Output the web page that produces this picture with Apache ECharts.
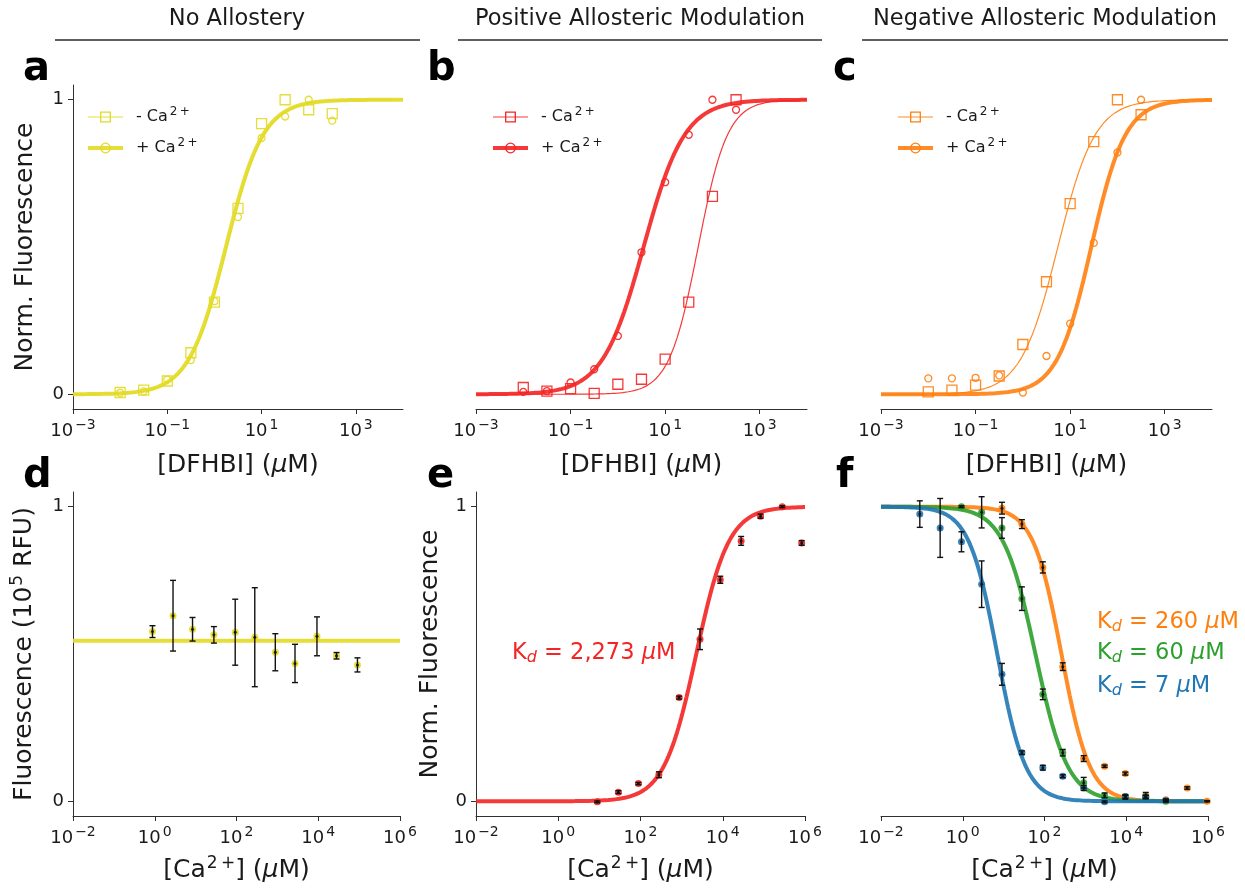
<!DOCTYPE html>
<html>
<head>
<meta charset="utf-8">
<script src="https://cdn.jsdelivr.net/npm/echarts@6/dist/echarts.min.js"></script>
<style>
  html, body { margin: 0; padding: 0; background: #ffffff; }
  #chart { width: 1245px; height: 890px; }
</style>
</head>
<body>
<div id="chart"></div>
<script>
// ---------- DFHBI titrations (panels a-c) ----------
const dfhbiConc = [0.01, 0.0316, 0.1, 0.316, 1, 3.16, 10, 31.6, 100, 316];   // µM

const aMinusCa = [0.006, 0.014, 0.045, 0.141, 0.313, 0.631, 0.919, 1.000, 0.966, 0.953];
const aPlusCa  = [0.005, 0.010, 0.050, 0.116, 0.316, 0.602, 0.870, 0.943, 1.000, 0.929];

const bMinusCa = [0.023, 0.011, 0.019, 0.003, 0.034, 0.051, 0.119, 0.313, 0.672, 1.000];
const bPlusCa  = [0.008, 0.011, 0.040, 0.085, 0.198, 0.482, 0.720, 0.881, 1.000, 0.966];

const cMinusCa = [0.008, 0.014, 0.031, 0.062, 0.169, 0.382, 0.647, 0.858, 1.000, 0.949];
const cPlusCa  = [0.054, 0.054, 0.056, 0.064, 0.006, 0.130, 0.240, 0.514, 0.821, 1.000];

// Hill fits (K in µM, n = Hill coefficient)
const fitAMinus = { K: 1.85, n: 1.1 };
const fitAPlus  = { K: 1.75, n: 1.1 };
const fitBMinus = { K: 50,   n: 1.4 };
const fitBPlus  = { K: 3.5,  n: 1.0 };
const fitCMinus = { K: 5.5,  n: 1.1 };
const fitCPlus  = { K: 28,   n: 1.2 };

// ---------- Ca2+ titrations (panels d-f) ----------
const caConcD = [0.88, 2.8, 8.4, 28, 93, 280, 890, 2700, 9300, 28000, 91000];
const dFluor  = [0.576, 0.630, 0.584, 0.565, 0.574, 0.557, 0.506, 0.468, 0.560, 0.494, 0.463];
const dErr    = [0.020, 0.120, 0.040, 0.028, 0.112, 0.168, 0.063, 0.065, 0.066, 0.011, 0.024];
const dFlatFit = 0.545;

const caConcE = [8.9, 29, 89, 280, 870, 2800, 8700, 28000, 83000, 280000, 830000];
const eNorm   = [-0.002, 0.031, 0.060, 0.090, 0.352, 0.550, 0.752, 0.884, 0.968, 1.000, 0.877];
const eErr    = [0.003, 0.005, 0.004, 0.010, 0.005, 0.035, 0.012, 0.015, 0.007, 0.003, 0.008];
const kdE = 2273, hillE = 1.1;

const caConcF    = [0.089, 0.28, 0.93, 2.9, 9.1, 28, 91, 280, 910, 2950, 9500, 30000, 93000, 310000, 950000];
const fBlue      = [0.975, 0.928, 0.881, 0.737, 0.431, 0.165, 0.114, 0.085, 0.045, -0.002, 0.015, 0.014, 0.003, null, null];
const fBlueErr   = [0.045, 0.100, 0.034, 0.079, 0.037, 0.006, 0.008, 0.005, 0.008, 0.003, 0.008, 0.006, 0.003, null, null];
const fGreen     = [null, null, 1.000, 0.981, 0.928, 0.688, 0.363, 0.165, 0.063, 0.020, 0.015, 0.015, 0.000, null, null];
const fGreenErr  = [null, null, 0.003, 0.053, 0.035, 0.040, 0.018, 0.011, 0.018, 0.008, 0.005, 0.005, 0.003, null, null];
const fOrange    = [null, null, null, null, 0.995, 0.941, 0.794, 0.457, 0.145, 0.119, 0.094, 0.020, 0.005, 0.045, 0.000];
const fOrangeErr = [null, null, null, null, 0.020, 0.015, 0.019, 0.013, 0.010, 0.004, 0.005, 0.010, 0.003, 0.004, 0.002];
const kdOrange = 260, kdGreen = 60, kdBlue = 7;
const hillOrange = 1.25, hillGreen = 1.1, hillBlue = 1.25;

// ---------- axis ticks ----------
const dfhbiTicks = [0.001, 0.1, 10, 1000];
const caTicks = [0.01, 1, 100, 10000, 1000000];
const yTicks = [0, 1];

// ---------- styling ----------
const FONT = 'DejaVu Sans';
const INK = '#1a1a1a';
const AXIS = '#303030';
const YELLOW = '#e2da24';
const RED = '#f42424';
const ORANGE = '#ff7f0e';
const GREEN = '#2ca02c';
const BLUE = '#1f77b4';

const THIN_SP = '\u2009';

// tick labels: 10 with raised exponent
const tickRich = {
  b: { fontSize: 18, fontFamily: FONT, color: INK },
  s: { fontSize: 14, fontFamily: FONT, color: INK, padding: [0, 0, 13, 2] }
};
// axis titles
const nameRich = {
  s: { fontSize: 17, fontFamily: FONT, color: INK, padding: [0, 0, 14, 1] },
  i: { fontSize: 25, fontFamily: FONT, color: INK, fontStyle: 'italic' }
};

function logLabel(v) {
  const e = Math.round(Math.log10(v));
  return '{b|10}{s|' + (e < 0 ? '\u2212' + (-e) : String(e)) + '}';
}

// helpers: pair x with y (and error), skipping missing entries
function pairs(xs, ys) {
  return xs.map((x, i) => [x, ys[i]]).filter(p => p[1] != null);
}
function triples(xs, ys, es) {
  return xs.map((x, i) => [x, ys[i], es[i]]).filter(p => p[1] != null);
}
function logSamples(lo, hi, count) {
  const out = [];
  for (let i = 0; i < count; i++) out.push(Math.pow(10, lo + (hi - lo) * i / (count - 1)));
  return out;
}
function hillRise(fit, lo, hi) {
  return logSamples(lo, hi, 240).map(x => {
    const t = Math.pow(x / fit.K, fit.n);
    return [x, t / (1 + t)];
  });
}
function hillFall(K, n, lo, hi) {
  return logSamples(lo, hi, 240).map(x => [x, 1 / (1 + Math.pow(x / K, n))]);
}

// ---------- layout ----------
const grids = [
  { left: 73,  top: 85,  width: 330, height: 324 },  // a
  { left: 476, top: 85,  width: 331, height: 324 },  // b
  { left: 881, top: 85,  width: 331, height: 324 },  // c
  { left: 73,  top: 492, width: 327, height: 324 },  // d
  { left: 476, top: 492, width: 329, height: 324 },  // e
  { left: 881, top: 492, width: 327, height: 324 }   // f
];

function xAxisCfg(idx, min, max, ticks, name, nameGap) {
  return {
    type: 'log', logBase: 10, gridIndex: idx, min: min, max: max,
    name: name, nameLocation: 'middle', nameGap: nameGap,
    nameTextStyle: { fontSize: 25, fontFamily: FONT, color: INK, rich: nameRich },
    axisLine: { show: true, onZero: false, lineStyle: { color: AXIS, width: 1 } },
    axisTick: { show: true, length: 5, customValues: ticks, lineStyle: { color: AXIS, width: 1 } },
    axisLabel: {
      customValues: ticks, margin: 9, showMinLabel: true, showMaxLabel: true,
      formatter: logLabel, fontSize: 18, fontFamily: FONT, color: INK, rich: tickRich
    },
    splitLine: { show: false }, minorTick: { show: false }, minorSplitLine: { show: false }
  };
}

function yAxisCfg(idx, visible, name, nameGap) {
  return {
    type: 'value', gridIndex: idx, min: -0.05, max: 1.05, show: visible,
    name: name, nameLocation: 'middle', nameGap: nameGap,
    nameTextStyle: { fontSize: 25, fontFamily: FONT, color: INK, rich: nameRich },
    axisLine: { show: true, onZero: false, lineStyle: { color: AXIS, width: 1 } },
    axisTick: { show: true, length: 5, customValues: yTicks, lineStyle: { color: AXIS, width: 1 } },
    axisLabel: {
      customValues: yTicks, margin: 9, fontSize: 18, fontFamily: FONT, color: INK,
      formatter: v => String(v)
    },
    splitLine: { show: false }
  };
}

const dfhbiName = '[DFHBI] ({i|\u03bc}M)';
const caName = '[Ca{s|2' + THIN_SP + '+}] ({i|\u03bc}M)';

// ---------- series builders ----------
function curve(idx, name, data, color, width, symbol) {
  return {
    type: 'line', name: name, xAxisIndex: idx, yAxisIndex: idx, data: data,
    showSymbol: false, symbol: symbol || 'none', smooth: false, silent: true,
    lineStyle: { color: color, width: width, opacity: 0.9 },
    itemStyle: { color: color },
    z: 2
  };
}
function hollowMarks(idx, data, color, symbol, size) {
  return {
    type: 'scatter', xAxisIndex: idx, yAxisIndex: idx, data: data,
    symbol: symbol, symbolSize: size, silent: true,
    itemStyle: { color: 'rgba(0,0,0,0)', borderColor: color, borderWidth: 1.3, opacity: 0.9 },
    z: 3
  };
}
function dots(idx, data, color, size, z) {
  return {
    type: 'scatter', xAxisIndex: idx, yAxisIndex: idx, data: data,
    symbol: 'circle', symbolSize: size, silent: true,
    itemStyle: { color: color, opacity: 0.9 }, z: z
  };
}
function errorBars(idx, data) {
  return {
    type: 'custom', xAxisIndex: idx, yAxisIndex: idx, data: data, silent: true, z: 5,
    encode: { x: 0, y: 1 },
    renderItem: function (params, api) {
      const x = api.value(0), y = api.value(1), e = api.value(2);
      const lo = api.coord([x, y - e]);
      const hi = api.coord([x, y + e]);
      const w = 3;
      const st = { stroke: '#111111', lineWidth: 1.4 };
      return {
        type: 'group',
        children: [
          { type: 'line', shape: { x1: lo[0], y1: lo[1], x2: hi[0], y2: hi[1] }, style: st },
          { type: 'line', shape: { x1: lo[0] - w, y1: lo[1], x2: lo[0] + w, y2: lo[1] }, style: st },
          { type: 'line', shape: { x1: hi[0] - w, y1: hi[1], x2: hi[0] + w, y2: hi[1] }, style: st }
        ]
      };
    }
  };
}

function panelLegend(left, top, minusName, plusName, color) {
  return {
    orient: 'vertical', left: left, top: top, padding: 0,
    itemWidth: 35, itemHeight: 12, itemGap: 12, selectedMode: false,
    data: [
      { name: minusName, lineStyle: { width: 1.2, color: color },
        itemStyle: { color: 'rgba(255,255,255,0)', borderColor: color, borderWidth: 1.3 } },
      { name: plusName, lineStyle: { width: 4, color: color },
        itemStyle: { color: 'rgba(255,255,255,0)', borderColor: color, borderWidth: 1.3 } }
    ],
    formatter: n => (n.indexOf('minus') >= 0 ? '- ' : '+ ') + 'Ca{s|2' + THIN_SP + '+}',
    textStyle: {
      fontFamily: FONT, fontSize: 16, color: INK, padding: [0, 0, 0, 8],
      rich: { s: { fontFamily: FONT, fontSize: 12, color: INK, padding: [0, 0, 10, 2] } }
    }
  };
}

const series = [
  // a
  curve(0, 'a minus', hillRise(fitAMinus, -3, 4), YELLOW, 1.2, 'rect'),
  curve(0, 'a plus', hillRise(fitAPlus, -3, 4), YELLOW, 4, 'circle'),
  hollowMarks(0, pairs(dfhbiConc, aMinusCa), YELLOW, 'rect', 10),
  hollowMarks(0, pairs(dfhbiConc, aPlusCa), YELLOW, 'circle', 7),
  // b
  curve(1, 'b minus', hillRise(fitBMinus, -3, 4), RED, 1.2, 'rect'),
  curve(1, 'b plus', hillRise(fitBPlus, -3, 4), RED, 4, 'circle'),
  hollowMarks(1, pairs(dfhbiConc, bMinusCa), RED, 'rect', 10),
  hollowMarks(1, pairs(dfhbiConc, bPlusCa), RED, 'circle', 7),
  // c
  curve(2, 'c minus', hillRise(fitCMinus, -3, 4), ORANGE, 1.2, 'rect'),
  curve(2, 'c plus', hillRise(fitCPlus, -3, 4), ORANGE, 4, 'circle'),
  hollowMarks(2, pairs(dfhbiConc, cMinusCa), ORANGE, 'rect', 10),
  hollowMarks(2, pairs(dfhbiConc, cPlusCa), ORANGE, 'circle', 7),
  // d
  curve(3, 'd fit', [[0.01, dFlatFit], [1000000, dFlatFit]], YELLOW, 4),
  dots(3, pairs(caConcD, dFluor), YELLOW, 7, 4),
  errorBars(3, triples(caConcD, dFluor, dErr)),
  dots(3, pairs(caConcD, dFluor), '#111111', 3, 6),
  // e
  curve(4, 'e fit', hillRise({ K: kdE, n: hillE }, -2, 6), RED, 4),
  dots(4, pairs(caConcE, eNorm), RED, 7, 4),
  errorBars(4, triples(caConcE, eNorm, eErr)),
  dots(4, pairs(caConcE, eNorm), '#111111', 3, 6),
  // f
  curve(5, 'f orange', hillFall(kdOrange, hillOrange, -2, 6), ORANGE, 4),
  curve(5, 'f green', hillFall(kdGreen, hillGreen, -2, 6), GREEN, 4),
  curve(5, 'f blue', hillFall(kdBlue, hillBlue, -2, 6), BLUE, 4),
  dots(5, pairs(caConcF, fOrange), ORANGE, 7, 4),
  dots(5, pairs(caConcF, fGreen), GREEN, 7, 4),
  dots(5, pairs(caConcF, fBlue), BLUE, 7, 4),
  errorBars(5, triples(caConcF, fOrange, fOrangeErr)),
  errorBars(5, triples(caConcF, fGreen, fGreenErr)),
  errorBars(5, triples(caConcF, fBlue, fBlueErr)),
  dots(5, pairs(caConcF, fOrange), '#111111', 3, 6),
  dots(5, pairs(caConcF, fGreen), '#111111', 3, 6),
  dots(5, pairs(caConcF, fBlue), '#111111', 3, 6)
];

// ---------- headers, panel letters and Kd annotations ----------
function headerText(cx, text) {
  return { type: 'text', silent: true,
    style: { x: cx, y: 19, text: text, fill: INK, fontSize: 22.5, fontFamily: FONT,
             align: 'center', verticalAlign: 'middle', textAlign: 'center', textVerticalAlign: 'middle' } };
}
function headerRule(x1, x2) {
  return { type: 'line', silent: true, shape: { x1: x1, y1: 40, x2: x2, y2: 40 },
           style: { stroke: '#2a2a2a', lineWidth: 1.4 } };
}
function panelLetter(x, baseline, ch) {
  return { type: 'text', silent: true,
    style: { x: x, y: baseline, text: ch, fill: '#000000', fontSize: 40, fontWeight: 'bold', fontFamily: FONT,
             align: 'left', verticalAlign: 'bottom', textAlign: 'left', textVerticalAlign: 'bottom' } };
}
const kdRich = {
  sub: { fontSize: 16, fontFamily: FONT, fontStyle: 'italic', padding: [10, 0, 0, 0] },
  i: { fontSize: 22.5, fontFamily: FONT, fontStyle: 'italic' }
};
function kdText(x, y, kd, color) {
  const rich = {};
  Object.keys(kdRich).forEach(k => { rich[k] = Object.assign({ fill: color, color: color }, kdRich[k]); });
  return { type: 'text', silent: true,
    style: { x: x, y: y, text: 'K{sub|d} = ' + kd.toLocaleString('en-US') + ' {i|\u03bc}M',
             fill: color, fontSize: 22.5, fontFamily: FONT, rich: rich,
             align: 'left', verticalAlign: 'middle', textAlign: 'left', textVerticalAlign: 'middle' } };
}

const graphics = [
  headerText(237, 'No Allostery'), headerRule(55, 420),
  headerText(640, 'Positive Allosteric Modulation'), headerRule(458, 822),
  headerText(1045, 'Negative Allosteric Modulation'), headerRule(862, 1228),
  panelLetter(23, 90, 'a'), panelLetter(427, 90, 'b'), panelLetter(833, 90, 'c'),
  panelLetter(23, 497, 'd'), panelLetter(427, 497, 'e'), panelLetter(836, 497, 'f'),
  kdText(512, 653, kdE, RED),
  kdText(1097, 622, kdOrange, ORANGE),
  kdText(1097, 653, kdGreen, GREEN),
  kdText(1097, 686, kdBlue, BLUE)
];

const chart = echarts.init(document.getElementById('chart'), null, { renderer: 'canvas' });
chart.setOption({
  animation: false,
  backgroundColor: '#ffffff',
  textStyle: { fontFamily: FONT },
  grid: grids,
  xAxis: [
    xAxisCfg(0, 0.001, 10000, dfhbiTicks, dfhbiName, 44),
    xAxisCfg(1, 0.001, 10000, dfhbiTicks, dfhbiName, 44),
    xAxisCfg(2, 0.001, 10000, dfhbiTicks, dfhbiName, 44),
    xAxisCfg(3, 0.01, 1000000, caTicks, caName, 39),
    xAxisCfg(4, 0.01, 1000000, caTicks, caName, 39),
    xAxisCfg(5, 0.01, 1000000, caTicks, caName, 39)
  ],
  yAxis: [
    yAxisCfg(0, true, 'Norm. Fluorescence', 35),
    yAxisCfg(1, false, '', 30),
    yAxisCfg(2, false, '', 30),
    yAxisCfg(3, true, 'Fluorescence (10{s|5} RFU)', 33),
    yAxisCfg(4, true, 'Norm. Fluorescence', 33),
    yAxisCfg(5, false, '', 30)
  ],
  legend: [
    panelLegend(86, 106, 'a minus', 'a plus', YELLOW),
    panelLegend(491, 106, 'b minus', 'b plus', RED),
    panelLegend(896, 106, 'c minus', 'c plus', ORANGE)
  ],
  series: series,
  graphic: graphics
});
</script>
</body>
</html>
